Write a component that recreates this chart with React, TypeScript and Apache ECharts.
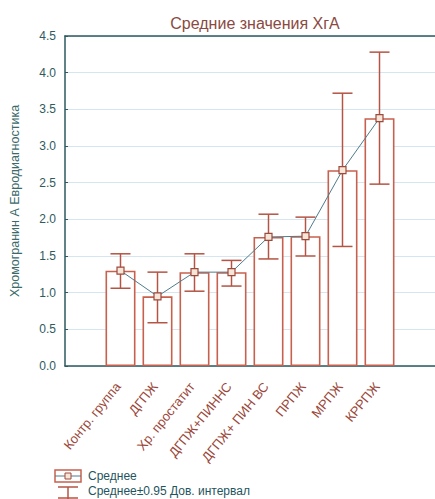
import React, { useEffect, useRef } from "react";
import * as echarts from "echarts";

const categories = [
  "Контр. группа",
  "ДГПЖ",
  "Хр. простатит",
  "ДГПЖ+ПИНHC",
  "ДГПЖ+ ПИН ВС",
  "ПРПЖ",
  "МРПЖ",
  "КРРПЖ",
];
const means = [1.3, 0.95, 1.28, 1.28, 1.76, 1.77, 2.67, 3.38];
const ciLow = [1.06, 0.59, 1.02, 1.09, 1.46, 1.5, 1.63, 2.48];
const ciHigh = [1.53, 1.28, 1.53, 1.44, 2.07, 2.03, 3.72, 4.28];
const yTicks = ["0.0", "0.5", "1.0", "1.5", "2.0", "2.5", "3.0", "3.5", "4.0", "4.5"];

const FONT = "Liberation Sans, Arial, sans-serif";
const RED = "#c8604e";
const TEAL = "#2c5a60";

export default function App() {
  const ref = useRef<HTMLDivElement>(null);
  useEffect(() => {
    if (!ref.current) return;
    const chart = echarts.init(ref.current, null, { renderer: "svg" });
    const xCats = ["", ...categories, ""];
    const barData = [null, ...means, null];
    const errData = categories.map((_, i) => [i + 1, ciLow[i], ciHigh[i]]);
    chart.setOption({
      animation: false,
      backgroundColor: "#ffffff",
      title: {
        text: "Средние значения ХгА",
        left: 250,
        textAlign: "center",
        top: 10,
        textStyle: { fontFamily: FONT, fontSize: 16, fontWeight: "normal", color: "#8a4a42" },
      },
      grid: { left: 63, right: -4, top: 36, bottom: 133 },
      xAxis: [
        {
          type: "category",
          data: xCats,
          boundaryGap: true,
          axisLine: { lineStyle: { color: TEAL, width: 1.5 } },
          axisTick: { alignWithLabel: true, inside: true, length: 3, lineStyle: { color: TEAL, width: 2 } },
          axisLabel: {
            interval: 0,
            rotate: 51,
            fontFamily: FONT,
            fontSize: 13,
            color: "#9a4638",
            margin: 15,
            padding: [0, 4, 0, 0],
          },
          splitLine: { show: false },
        },
        {
          type: "category",
          data: xCats,
          position: "top",
          boundaryGap: true,
          axisLine: { show: true, onZero: false, lineStyle: { color: TEAL, width: 1.5 } },
          axisTick: { alignWithLabel: true, inside: true, length: 3, lineStyle: { color: TEAL, width: 1.5 } },
          axisLabel: { show: false },
        },
      ],
      yAxis: {
        type: "value",
        min: 0,
        max: 4.5,
        interval: 0.5,
        name: "Хромогранин А Евродиагностика",
        nameLocation: "middle",
        nameGap: 44,
        nameTextStyle: { fontFamily: FONT, fontSize: 12.5, color: "#3a6a6a" },
        axisLine: { show: true, lineStyle: { color: TEAL, width: 1.5 } },
        axisTick: { show: true, inside: true, length: 3, lineStyle: { color: TEAL } },
        axisLabel: {
          fontFamily: FONT,
          fontSize: 12,
          color: "#2f5a5e",
          margin: 9,
          formatter: (v: number) => yTicks[Math.round(v / 0.5)] ?? String(v),
        },
        splitLine: { show: true, lineStyle: { color: "#d6e6f0", width: 1 } },
      },
      series: [
        {
          type: "bar",
          data: barData,
          barWidth: 30,
          itemStyle: { color: "#ffffff", borderColor: RED, borderWidth: 1.6 },
          z: 2,
        },
        {
          type: "custom",
          data: errData,
          z: 3,
          renderItem: (params: any, api: any) => {
            const x = api.value(0);
            const lo = api.coord([x, api.value(1)]);
            const hi = api.coord([x, api.value(2)]);
            const half = 10;
            const style = { stroke: "#b45444", lineWidth: 1.5 };
            return {
              type: "group",
              children: [
                { type: "line", shape: { x1: lo[0], y1: lo[1], x2: hi[0], y2: hi[1] }, style },
                { type: "line", shape: { x1: hi[0] - half, y1: hi[1], x2: hi[0] + half, y2: hi[1] }, style },
                { type: "line", shape: { x1: lo[0] - half, y1: lo[1], x2: lo[0] + half, y2: lo[1] }, style },
              ],
            };
          },
        },
        {
          type: "line",
          data: barData,
          connectNulls: false,
          symbol: "rect",
          symbolSize: 7,
          z: 4,
          lineStyle: { color: "#4f7c8c", width: 1 },
          itemStyle: { color: "#f6e6d8", borderColor: "#9c4a3c", borderWidth: 1.2 },
        },
      ],
      graphic: [
        { type: "rect", shape: { x: 55, y: 470, width: 26, height: 12 }, style: { fill: "#fff", stroke: RED, lineWidth: 1.5 } },
        { type: "line", shape: { x1: 55, y1: 476, x2: 81, y2: 476 }, style: { stroke: "#4f7c8c", lineWidth: 1 } },
        { type: "rect", shape: { x: 65, y: 473, width: 6, height: 6 }, style: { fill: "#f6e6d8", stroke: "#9c4a3c", lineWidth: 1 } },
        { type: "text", x: 88, y: 476, style: { text: "Среднее", fontFamily: FONT, fontSize: 12, fill: "#1f5560", verticalAlign: "middle" } },
        { type: "line", shape: { x1: 58, y1: 487, x2: 78, y2: 487 }, style: { stroke: "#b45444", lineWidth: 1.5 } },
        { type: "line", shape: { x1: 68, y1: 487, x2: 68, y2: 499 }, style: { stroke: "#b45444", lineWidth: 1.5 } },
        { type: "line", shape: { x1: 58, y1: 498, x2: 78, y2: 498 }, style: { stroke: "#b45444", lineWidth: 1.5 } },
        { type: "text", x: 88, y: 491, style: { text: "Среднее±0.95 Дов. интервал", fontFamily: FONT, fontSize: 12, fill: "#1f5560", verticalAlign: "middle" } },
      ],
    });
    return () => chart.dispose();
  }, []);
  return (
    <div
      ref={ref}
      style={{ position: "absolute", left: 0, top: 0, width: 435, height: 499 }}
    />
  );
}
